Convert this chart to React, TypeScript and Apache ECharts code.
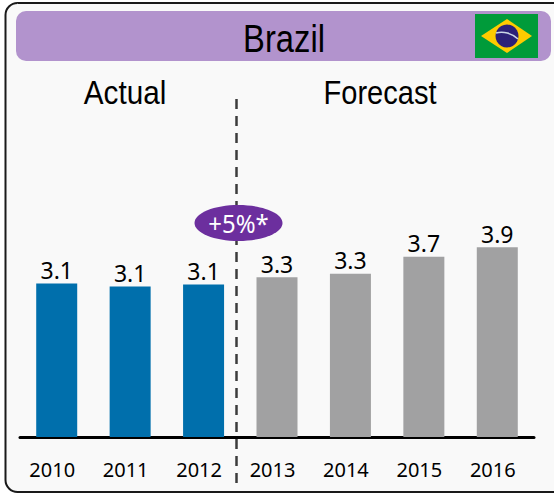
import React, { useEffect, useRef } from "react";
import * as echarts from "echarts";

const years = ["2010", "2011", "2012", "2013", "2014", "2015", "2016"];
const values = [3.14, 3.08, 3.12, 3.27, 3.34, 3.69, 3.88];
const valueLabels = ["3.1", "3.1", "3.1", "3.3", "3.3", "3.7", "3.9"];
const actualCount = 3;
const titleText = "Brazil";
const leftHeading = "Actual";
const rightHeading = "Forecast";
const growthText = "+5%*";

const FONT = "'Liberation Sans', sans-serif";
const NUM_FONT = "'Noto Sans', sans-serif";

export default function App() {
  const ref = useRef<HTMLDivElement>(null);
  useEffect(() => {
    const chart = echarts.init(ref.current!, undefined, { renderer: "svg" });
    chart.setOption({
      animation: false,
      backgroundColor: "#ffffff",
      grid: { left: 20, right: 20, top: 46, bottom: 57, containLabel: false },
      xAxis: {
        type: "category",
        data: years,
        axisLine: { lineStyle: { color: "#000000", width: 3 } },
        axisTick: { show: false },
        axisLabel: { color: "#000000", fontFamily: NUM_FONT, fontSize: 20, margin: 22, padding: [0, 9, 0, 0] },
      },
      yAxis: { type: "value", min: 0, max: 8, show: false, splitLine: { show: false } },
      series: [
        {
          type: "bar",
          barWidth: 41,
          z: 5,
          data: values.map((v, i) => ({
            value: v,
            itemStyle: { color: i < actualCount ? "#006fac" : "#a1a1a2" },
          })),
          label: {
            show: true,
            position: "top",
            distance: 2,
            color: "#000000",
            fontFamily: NUM_FONT,
            fontSize: 23,
            formatter: (p: any) => valueLabels[p.dataIndex],
          },
        },
      ],
      graphic: [
        { type: "rect", z: 0, shape: { x: 5.5, y: 3, width: 560, height: 489, r: 12 }, style: { fill: "#f9f9f9", stroke: "#1a1a1a", lineWidth: 2 } },
        { type: "rect", z: 1, shape: { x: 16, y: 11, width: 535, height: 50, r: 10 }, style: { fill: "#b293cd" } },
        { type: "rect", z: 2, shape: { x: 475, y: 14, width: 63, height: 44 }, style: { fill: "#009b3a" } },
        { type: "polygon", z: 3, shape: { points: [[481, 36], [507, 19], [532, 36], [507, 53]] }, style: { fill: "#fecb00" } },
        { type: "circle", z: 4, shape: { cx: 507, cy: 36, r: 11.5 }, style: { fill: "#2b2178" } },
        { type: "bezierCurve", z: 5, shape: { x1: 496, y1: 33, x2: 518, y2: 39, cpx1: 503, cpy1: 31, cpx2: 512, cpy2: 33 }, style: { stroke: "#c9d6e6", fill: "none", lineWidth: 1.5 } },
        { type: "text", z: 6, x: 284, y: 38, scaleX: 0.84, style: { text: titleText, fill: "#000", font: `39px ${FONT}`, textAlign: "center", textVerticalAlign: "middle" } },
        { type: "text", z: 6, x: 125, y: 93, scaleX: 0.9, style: { text: leftHeading, fill: "#000", font: `33px ${FONT}`, textAlign: "center", textVerticalAlign: "middle" } },
        { type: "text", z: 6, x: 380, y: 93, scaleX: 0.88, style: { text: rightHeading, fill: "#000", font: `33px ${FONT}`, textAlign: "center", textVerticalAlign: "middle" } },
        { type: "line", z: 3, shape: { x1: 236.5, y1: 99, x2: 236.5, y2: 484 }, style: { stroke: "#3c3c3c", lineWidth: 2.5, lineDash: [10, 7] } },
        { type: "ellipse", z: 7, shape: { cx: 238.5, cy: 223, rx: 44, ry: 18 }, style: { fill: "#6c2f9e" } },
        { type: "text", z: 8, x: 238.5, y: 223, scaleX: 0.92, style: { text: growthText, fill: "#fff", font: `26px ${NUM_FONT}`, textAlign: "center", textVerticalAlign: "middle" } },
      ],
    });
    return () => chart.dispose();
  }, []);
  return <div ref={ref} style={{ position: "absolute", left: 0, top: 0, width: 554, height: 494 }} />;
}
